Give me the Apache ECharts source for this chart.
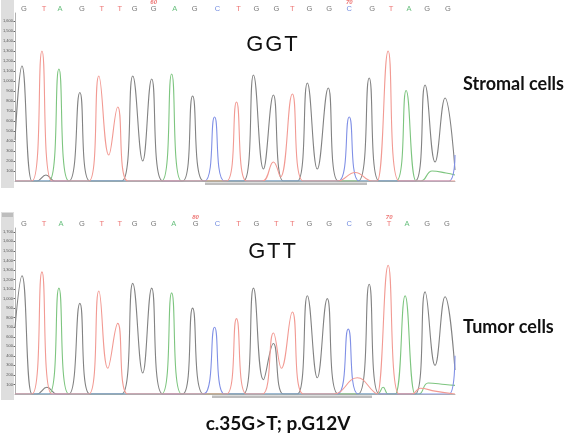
<!DOCTYPE html>
<html>
<head>
<meta charset="utf-8">
<script src="https://cdn.jsdelivr.net/npm/echarts@6/dist/echarts.min.js"></script>
<style>
html,body{margin:0;padding:0;background:#fff;}
#c{width:567px;height:435px;}
</style>
</head>
<body>
<div id="c"></div>
<script>
// ---- Data (scan position, signal) ----
const topCalls = ['G','T','A','G','T','T','G','G','A','G','C','T','G','G','T','G','G','C','G','T','A','G','G'];
const topCallPos = [23,43,59,81,101,119,134,153,174,194,217,238,256,276,292,309,329,349,372,391,409,427,448];
const topNumbers = {7:'60', 17:'70'};
const botCalls = ['G','T','A','G','T','T','G','G','A','G','C','T','G','T','T','G','G','C','G','T','A','G','G'];
const botCallPos = [23,43,60,81,101,119,134,153,173,195,217,238,256,276,292,309,329,349,369,389,407,427,447];
const botNumbers = {9:'80', 19:'70'};

const topG = [[14,410],[21,1150],[31,0],[36,0],[45,60],[54,0],[68,0],[79,885],[89,0],[121,0],[132,1050],[142,200],[151,1020],[162,0],[182,0],[192,850],[203,0],[243,0],[253,1060],[263,120],[273,860],[283,0],[297,0],[307,980],[317,120],[328,930],[338,0],[358,0],[369,1030],[379,0],[415,0],[425,960],[435,190],[445,830],[455,110]];
const topT = [[14,0],[31,0],[41,1300],[51,0],[88,0],[98,1050],[108,260],[117,740],[127,0],[226,0],[236,790],[246,0],[262,0],[273,190],[280,40],[292,870],[303,0],[337,0],[355,85],[372,0],[377,0],[388,1300],[399,0],[455,0]];
const topA = [[14,0],[48,0],[58,1120],[68,0],[161,0],[171,1070],[181,0],[396,0],[406,905],[416,0],[421,0],[432,100],[446,80],[455,60]];
const topC = [[14,0],[204,0],[214,640],[224,0],[338,0],[349,640],[359,0],[449,0],[455,260]];

const botG = [[14,700],[21,1240],[31,0],[36,0],[46,70],[56,0],[68,0],[79,950],[89,0],[121,0],[132,1160],[142,220],[151,1110],[162,0],[182,0],[192,900],[203,0],[243,0],[253,1110],[263,150],[273,530],[283,0],[297,0],[307,1030],[317,170],[327,1000],[338,0],[358,0],[369,1150],[379,0],[415,0],[425,1070],[435,300],[445,1020],[455,250]];
const botT = [[14,0],[31,0],[41,1280],[51,0],[88,0],[98,1080],[107,270],[117,740],[127,0],[226,0],[236,790],[246,0],[262,0],[273,640],[281,270],[292,860],[303,0],[333,0],[357,170],[374,20],[377,0],[388,1350],[399,0],[412,0],[420,60],[435,30],[455,0]];
const botA = [[14,0],[48,0],[58,1110],[68,0],[161,0],[171,1060],[181,0],[377,0],[383,70],[388,0],[395,0],[405,1030],[415,0],[419,0],[428,115],[445,100],[455,90]];
const botC = [[14,0],[203,0],[214,700],[224,0],[337,0],[348,680],[358,0],[449,0],[455,400]];

const topMax = 1680, botMax = 1740;

// ---- Styles ----
const traceColor = {G:'#828282', T:'#f29a93', A:'#7dc57f', C:'#8090e6'};
const callColor = {G:'#555555', T:'#e8504f', A:'#3fae5a', C:'#4f6fd8'};

function trace(data, base, idx){
  return {type:'line', xAxisIndex:idx, yAxisIndex:idx, data:data, smooth:0.45,
    symbol:'none', lineStyle:{color:traceColor[base], width:1.1}, z:3, silent:true};
}
function calls(letters, pos, nums, yMax, idx){
  return {type:'scatter', xAxisIndex:idx, yAxisIndex:idx, symbolSize:0, z:5, silent:true, clip:false,
    data: letters.map((b,i)=>({value:[pos[i], yMax], base:b, num:nums[i]||''})),
    label:{show:true, position:'top', distance:0,
      formatter: p => (p.data.num ? '{n|'+p.data.num+'}\n' : '') + '{'+p.data.base+'|'+p.data.base+'}',
      rich:{
        n:{fontSize:6, fontStyle:'italic', fontWeight:'bold', color:'#e8504f', fontFamily:'Liberation Sans', lineHeight:6},
        G:{fontSize:7.5, color:callColor.G, fontFamily:'Liberation Sans', lineHeight:8},
        T:{fontSize:7.5, color:callColor.T, fontFamily:'Liberation Sans', lineHeight:8},
        A:{fontSize:7.5, color:callColor.A, fontFamily:'Liberation Sans', lineHeight:8},
        C:{fontSize:7.5, color:callColor.C, fontFamily:'Liberation Sans', lineHeight:8}
      }}};
}
function xAx(idx){
  return {type:'value', gridIndex:idx, min:14, max:455, position:'top',
    axisLine:{show:true, lineStyle:{color:'#b5b5b5', width:1}}, axisTick:{show:false},
    axisLabel:{show:false}, splitLine:{show:false}};
}
function yAx(idx, max){
  return {type:'value', gridIndex:idx, min:0, max:max, interval:100,
    axisLine:{show:true, lineStyle:{color:'#b0b0b0'}},
    axisTick:{show:true, length:1.5, lineStyle:{color:'#666'}},
    axisLabel:{fontSize:4, color:'#555', margin:2, showMaxLabel:false, showMinLabel:false,
      fontFamily:'Liberation Sans'},
    splitLine:{show:false}};
}

const chart = echarts.init(document.getElementById('c'), null, {renderer:'canvas'});
chart.setOption({
  animation:false,
  backgroundColor:'#ffffff',
  grid:[
    {left:14, top:13, width:441, height:168},
    {left:14, top:228, width:441, height:166}
  ],
  xAxis:[xAx(0), xAx(1)],
  yAxis:[yAx(0, topMax), yAx(1, botMax)],
  series:[
    trace(topG,'G',0), trace(topA,'A',0), trace(topC,'C',0), trace(topT,'T',0),
    trace(botG,'G',1), trace(botA,'A',1), trace(botC,'C',1), trace(botT,'T',1),
    calls(topCalls, topCallPos, topNumbers, topMax, 0),
    calls(botCalls, botCallPos, botNumbers, botMax, 1)
  ],
  graphic:[
    {type:'rect', z:-10, shape:{x:1, y:0, width:13, height:188}, style:{fill:'#dedede'}},
    {type:'rect', z:-10, shape:{x:1, y:212, width:13, height:188}, style:{fill:'#dedede'}},
    {type:'rect', z:-9, shape:{x:2, y:213, width:11, height:4}, style:{fill:'#bdbdbd'}},
    {type:'rect', z:-9, shape:{x:205, y:182.5, width:162, height:2.5}, style:{fill:'#bdbdbd'}},
    {type:'rect', z:-9, shape:{x:212, y:395.5, width:160, height:2.5}, style:{fill:'#bdbdbd'}},
    {type:'text', x:272, y:45, style:{text:'G\u200AG\u200AT', fontSize:22, fontFamily:'Liberation Sans', fill:'#111', align:'center', verticalAlign:'middle'}},
    {type:'text', x:272, y:251.5, style:{text:'G\u200AT\u200AT', fontSize:22, fontFamily:'Liberation Sans', fill:'#111', align:'center', verticalAlign:'middle'}},
    {type:'text', x:463, y:84, style:{text:'Stromal cells', fontSize:18, fontWeight:'bold', fontFamily:'Lato', fill:'#111', align:'left', verticalAlign:'middle'}},
    {type:'text', x:463, y:327, style:{text:'Tumor cells', fontSize:18, fontWeight:'bold', fontFamily:'Lato', fill:'#111', align:'left', verticalAlign:'middle'}},
    {type:'text', x:278, y:424, style:{text:'c.35G>T; p.G12V', fontSize:19, fontWeight:'bold', fontFamily:'Lato', fill:'#111', align:'center', verticalAlign:'middle'}}
  ]
});
</script>
</body>
</html>
